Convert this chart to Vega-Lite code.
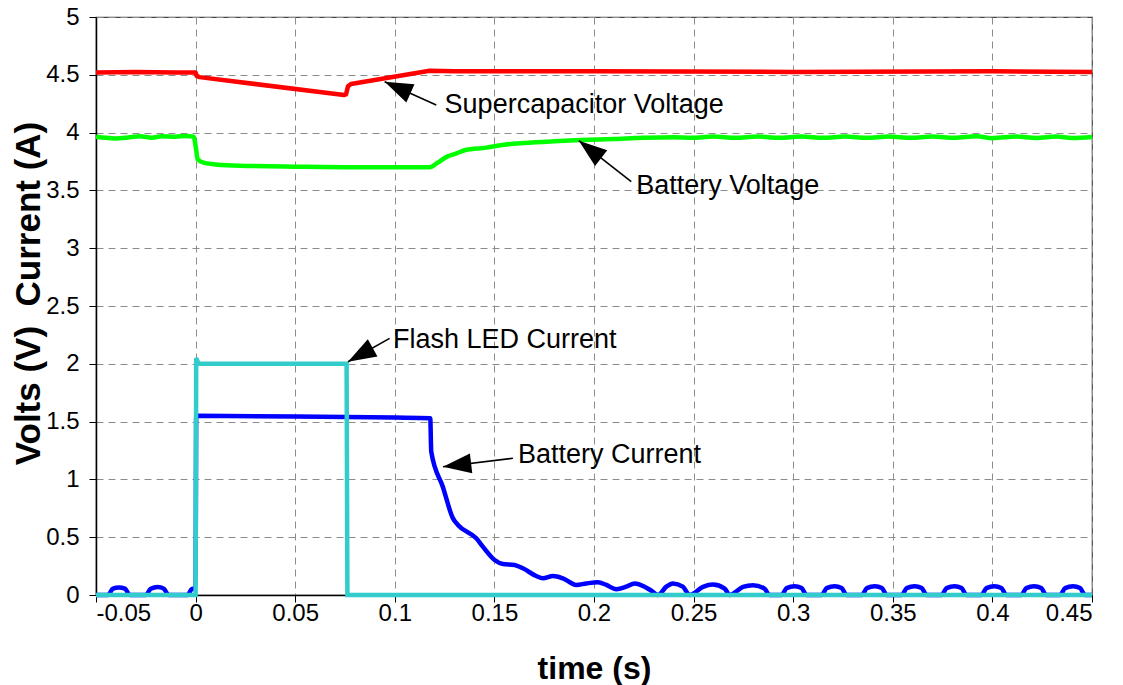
{
  "$schema": "https://vega.github.io/schema/vega-lite/v6.json",
  "width": 996,
  "height": 578,
  "autosize": {"type": "none"},
  "padding": {"left": 96, "top": 17, "right": 31, "bottom": 90},
  "background": "white",
  "config": {
    "font": "Liberation Sans",
    "view": {"stroke": "#444444", "strokeWidth": 1.2},
    "axis": {
      "grid": true,
      "gridColor": "#8c8c8c",
      "gridDash": [7, 5],
      "gridWidth": 1,
      "domainColor": "#000000",
      "domainWidth": 1.5,
      "tickColor": "#000000",
      "tickWidth": 1,
      "tickSize": 7,
      "labelFont": "Liberation Sans",
      "labelFontSize": 24,
      "labelColor": "#000000",
      "titleFont": "Liberation Sans",
      "titleFontSize": 32,
      "titleFontWeight": "bold",
      "titleColor": "#000000"
    }
  },
  "datasets": {
    "supercap": [
      {"t": -0.05, "v": 4.52}, {"t": -0.03, "v": 4.525}, {"t": -0.01, "v": 4.52}, {"t": 0.0, "v": 4.52},
      {"t": 0.0005, "v": 4.49}, {"t": 0.002, "v": 4.48}, {"t": 0.0745, "v": 4.325}, {"t": 0.0755, "v": 4.33},
      {"t": 0.0765, "v": 4.40}, {"t": 0.078, "v": 4.42}, {"t": 0.1175, "v": 4.535}, {"t": 0.13, "v": 4.53},
      {"t": 0.2, "v": 4.53}, {"t": 0.3, "v": 4.525}, {"t": 0.4, "v": 4.53}, {"t": 0.45, "v": 4.525}
    ],
    "battV": [
      {"t": -0.05, "v": 3.965}, {"t": -0.045, "v": 3.955}, {"t": -0.04, "v": 3.95}, {"t": -0.033, "v": 3.96},
      {"t": -0.028, "v": 3.968}, {"t": -0.022, "v": 3.955}, {"t": -0.017, "v": 3.968}, {"t": -0.01, "v": 3.965},
      {"t": -0.005, "v": 3.97}, {"t": -0.001, "v": 3.965}, {"t": 0.0003, "v": 3.85}, {"t": 0.001, "v": 3.77},
      {"t": 0.004, "v": 3.74}, {"t": 0.013, "v": 3.72}, {"t": 0.03, "v": 3.71}, {"t": 0.05, "v": 3.705},
      {"t": 0.08, "v": 3.7}, {"t": 0.1, "v": 3.7}, {"t": 0.1175, "v": 3.7}, {"t": 0.1215, "v": 3.74},
      {"t": 0.126, "v": 3.79}, {"t": 0.131, "v": 3.82}, {"t": 0.1355, "v": 3.85}, {"t": 0.146, "v": 3.87},
      {"t": 0.155, "v": 3.895}, {"t": 0.165, "v": 3.91}, {"t": 0.18, "v": 3.925}, {"t": 0.193, "v": 3.935},
      {"t": 0.21, "v": 3.945}, {"t": 0.225, "v": 3.955}, {"t": 0.24, "v": 3.96}, {"t": 0.249, "v": 3.955},
      {"t": 0.26, "v": 3.966}, {"t": 0.271, "v": 3.955}, {"t": 0.282, "v": 3.966}, {"t": 0.293, "v": 3.955},
      {"t": 0.304, "v": 3.966}, {"t": 0.315, "v": 3.955}, {"t": 0.326, "v": 3.966}, {"t": 0.337, "v": 3.955},
      {"t": 0.348, "v": 3.966}, {"t": 0.359, "v": 3.955}, {"t": 0.37, "v": 3.966}, {"t": 0.381, "v": 3.955},
      {"t": 0.392, "v": 3.968}, {"t": 0.4, "v": 3.952}, {"t": 0.412, "v": 3.966}, {"t": 0.422, "v": 3.953},
      {"t": 0.432, "v": 3.966}, {"t": 0.44, "v": 3.953}, {"t": 0.45, "v": 3.962}
    ],
    "battI": [
      {"t": -0.05, "v": 0}, {"t": -0.044, "v": 0}, {"t": -0.0415, "v": 0.055}, {"t": -0.0385, "v": 0.065},
      {"t": -0.0355, "v": 0.055}, {"t": -0.033, "v": 0}, {"t": -0.025, "v": 0}, {"t": -0.0225, "v": 0.055},
      {"t": -0.019, "v": 0.07}, {"t": -0.016, "v": 0.055}, {"t": -0.0135, "v": 0}, {"t": -0.004, "v": 0},
      {"t": -0.002, "v": 0.05}, {"t": 0.0, "v": 0.06}, {"t": 0.0003, "v": 1.55}, {"t": 0.05, "v": 1.545},
      {"t": 0.1, "v": 1.535}, {"t": 0.1178, "v": 1.53}, {"t": 0.1183, "v": 1.24}, {"t": 0.1241, "v": 0.937},
      {"t": 0.1292, "v": 0.663}, {"t": 0.1317, "v": 0.606}, {"t": 0.1409, "v": 0.49}, {"t": 0.1442, "v": 0.418},
      {"t": 0.1501, "v": 0.303}, {"t": 0.1543, "v": 0.268}, {"t": 0.1601, "v": 0.26}, {"t": 0.1643, "v": 0.231},
      {"t": 0.171, "v": 0.164}, {"t": 0.1744, "v": 0.144}, {"t": 0.1794, "v": 0.164}, {"t": 0.1844, "v": 0.144},
      {"t": 0.1911, "v": 0.087}, {"t": 0.1961, "v": 0.1}, {"t": 0.202, "v": 0.11}, {"t": 0.2062, "v": 0.087},
      {"t": 0.2112, "v": 0.05}, {"t": 0.2162, "v": 0.072}, {"t": 0.2204, "v": 0.1}, {"t": 0.2254, "v": 0.072},
      {"t": 0.2288, "v": 0.037}, {"t": 0.2321, "v": 0}, {"t": 0.2363, "v": 0.072}, {"t": 0.2396, "v": 0.1},
      {"t": 0.2446, "v": 0.072}, {"t": 0.248, "v": 0}, {"t": 0.2547, "v": 0.07}, {"t": 0.2597, "v": 0.09},
      {"t": 0.2656, "v": 0.055}, {"t": 0.2681, "v": 0}, {"t": 0.2748, "v": 0.07}, {"t": 0.2798, "v": 0.085},
      {"t": 0.2856, "v": 0.055}, {"t": 0.2881, "v": 0},
      {"t": 0.2942, "v": 0}, {"t": 0.2967, "v": 0.06}, {"t": 0.3007, "v": 0.075}, {"t": 0.3042, "v": 0.06}, {"t": 0.3067, "v": 0},
      {"t": 0.3143, "v": 0}, {"t": 0.3168, "v": 0.06}, {"t": 0.3208, "v": 0.075}, {"t": 0.3243, "v": 0.06}, {"t": 0.3268, "v": 0},
      {"t": 0.3345, "v": 0}, {"t": 0.337, "v": 0.06}, {"t": 0.341, "v": 0.075}, {"t": 0.3445, "v": 0.06}, {"t": 0.347, "v": 0},
      {"t": 0.3545, "v": 0}, {"t": 0.357, "v": 0.06}, {"t": 0.361, "v": 0.075}, {"t": 0.3645, "v": 0.06}, {"t": 0.367, "v": 0},
      {"t": 0.3745, "v": 0}, {"t": 0.377, "v": 0.06}, {"t": 0.381, "v": 0.075}, {"t": 0.3845, "v": 0.06}, {"t": 0.387, "v": 0},
      {"t": 0.3945, "v": 0}, {"t": 0.397, "v": 0.06}, {"t": 0.401, "v": 0.075}, {"t": 0.4045, "v": 0.06}, {"t": 0.407, "v": 0},
      {"t": 0.4145, "v": 0}, {"t": 0.417, "v": 0.06}, {"t": 0.421, "v": 0.075}, {"t": 0.4245, "v": 0.06}, {"t": 0.427, "v": 0},
      {"t": 0.434, "v": 0}, {"t": 0.4365, "v": 0.06}, {"t": 0.4405, "v": 0.075}, {"t": 0.444, "v": 0.06}, {"t": 0.4465, "v": 0},
      {"t": 0.45, "v": 0}
    ],
    "flash": [
      {"t": -0.05, "v": 0}, {"t": 0.0, "v": 0}, {"t": 0.0003, "v": 2.05}, {"t": 0.0015, "v": 2.0},
      {"t": 0.04, "v": 2.0}, {"t": 0.0758, "v": 2.0}, {"t": 0.0762, "v": 0}, {"t": 0.45, "v": 0}
    ],
    "notes": [
      {"label": "Supercapacitor Voltage", "tt": 0.125, "tv": 4.167, "tailT": 0.1208, "tailV": 4.239, "tipT": 0.0949, "tipV": 4.44},
      {"label": "Battery Voltage", "tt": 0.2212, "tv": 3.469, "tailT": 0.2187, "tailV": 3.575, "tipT": 0.1924, "tipV": 3.93},
      {"label": "Flash LED Current", "tt": 0.0991, "tv": 2.134, "tailT": 0.0974, "tailV": 2.22, "tipT": 0.0765, "tipV": 2.018},
      {"label": "Battery Current", "tt": 0.1618, "tv": 1.139, "tailT": 0.1593, "tailV": 1.183, "tipT": 0.1242, "tipV": 1.11}
    ]
  },
  "encoding": {
    "x": {
      "field": "t", "type": "quantitative",
      "scale": {"domain": [-0.05, 0.45], "nice": false, "zero": false},
      "axis": {
        "title": "time (s)",
        "values": [-0.05, 0, 0.05, 0.1, 0.15, 0.2, 0.25, 0.3, 0.35, 0.4, 0.45],
        "labelExpr": "datum.value < 0 ? '-' + format(-datum.value, '~g') : format(datum.value, '~g')",
        "labelPadding": -1,
        "titleX": 498, "titleY": 73, "titleAlign": "center", "titleBaseline": "middle"
      }
    },
    "y": {
      "field": "v", "type": "quantitative",
      "scale": {"domain": [0, 5], "nice": false},
      "axis": {
        "title": "Volts (V)\u00a0 Current (A)",
        "values": [0, 0.5, 1, 1.5, 2, 2.5, 3, 3.5, 4, 4.5, 5],
        "format": "~g",
        "labelPadding": 10,
        "titleFontSize": 35,
        "titleX": -68, "titleY": 276, "titleAngle": -90, "titleAlign": "center", "titleBaseline": "middle"
      }
    }
  },
  "layer": [
    {
      "data": {"name": "supercap"},
      "mark": {"type": "line", "color": "#ff0000", "strokeWidth": 4.5, "strokeJoin": "round"}
    },
    {
      "data": {"name": "battV"},
      "mark": {"type": "line", "color": "#00ff00", "strokeWidth": 4.5, "strokeJoin": "round", "interpolate": "monotone"}
    },
    {
      "data": {"name": "battI"},
      "mark": {"type": "line", "color": "#0000ff", "strokeWidth": 4.5, "strokeJoin": "round", "interpolate": "monotone"}
    },
    {
      "data": {"name": "flash"},
      "mark": {"type": "line", "color": "#33cccc", "strokeWidth": 4.5, "strokeJoin": "miter"}
    },
    {
      "data": {"name": "notes"},
      "mark": {"type": "rule", "color": "#000000", "strokeWidth": 1.6},
      "encoding": {
        "x": {"field": "tailT", "type": "quantitative"},
        "y": {"field": "tailV", "type": "quantitative"},
        "x2": {"field": "tipT"},
        "y2": {"field": "tipV"}
      }
    },
    {
      "data": {"name": "notes"},
      "transform": [{"filter": "datum.label == 'Supercapacitor Voltage'"}],
      "mark": {"type": "point", "shape": "M0,0L-0.7,2L0.7,2Z", "filled": true, "color": "#000000", "opacity": 1, "size": 800, "angle": -65.7},
      "encoding": {
        "x": {"field": "tipT", "type": "quantitative"},
        "y": {"field": "tipV", "type": "quantitative"}
      }
    },
    {
      "data": {"name": "notes"},
      "transform": [{"filter": "datum.label == 'Battery Voltage'"}],
      "mark": {"type": "point", "shape": "M0,0L-0.7,2L0.7,2Z", "filled": true, "color": "#000000", "opacity": 1, "size": 800, "angle": -52},
      "encoding": {
        "x": {"field": "tipT", "type": "quantitative"},
        "y": {"field": "tipV", "type": "quantitative"}
      }
    },
    {
      "data": {"name": "notes"},
      "transform": [{"filter": "datum.label == 'Flash LED Current'"}],
      "mark": {"type": "point", "shape": "M0,0L-0.7,2L0.7,2Z", "filled": true, "color": "#000000", "opacity": 1, "size": 800, "angle": -119.3},
      "encoding": {
        "x": {"field": "tipT", "type": "quantitative"},
        "y": {"field": "tipV", "type": "quantitative"}
      }
    },
    {
      "data": {"name": "notes"},
      "transform": [{"filter": "datum.label == 'Battery Current'"}],
      "mark": {"type": "point", "shape": "M0,0L-0.7,2L0.7,2Z", "filled": true, "color": "#000000", "opacity": 1, "size": 800, "angle": -96.8},
      "encoding": {
        "x": {"field": "tipT", "type": "quantitative"},
        "y": {"field": "tipV", "type": "quantitative"}
      }
    },
    {
      "data": {"name": "notes"},
      "mark": {"type": "text", "align": "left", "baseline": "alphabetic", "fontSize": 27, "font": "Liberation Sans", "color": "#000000"},
      "encoding": {
        "x": {"field": "tt", "type": "quantitative"},
        "y": {"field": "tv", "type": "quantitative"},
        "text": {"field": "label"}
      }
    }
  ]
}
